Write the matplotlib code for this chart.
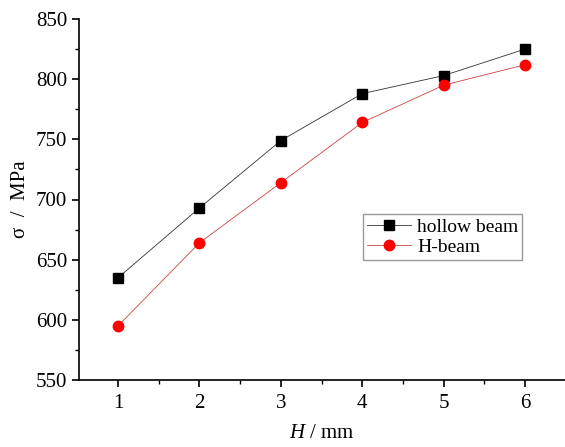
import matplotlib
matplotlib.use("Agg")
import matplotlib.pyplot as plt
from matplotlib.ticker import MultipleLocator

H = [1, 2, 3, 4, 5, 6]
hollow = [635, 693, 749, 788, 803, 825]
hbeam = [595, 664, 714, 764, 795, 812]

plt.rcParams['font.family'] = ['Liberation Serif', 'DejaVu Serif']
plt.rcParams['mathtext.fontset'] = 'custom'
plt.rcParams['mathtext.it'] = 'Liberation Serif:italic'
plt.rcParams['mathtext.rm'] = 'Liberation Serif'

fig = plt.figure(figsize=(5.65, 4.47), dpi=100)
ax = fig.add_axes([79/565, 1-380/447, 486/565, 361/447])

ax.plot(H, hollow, color='#333333', lw=0.6, marker='s', ms=6.5, mfc='black', mec='black', label='hollow beam')
ax.plot(H, hbeam, color='#cc4444', lw=0.6, marker='o', ms=7.5, mfc='red', mec='red', label='H-beam')

ax.set_xlim(0.52, 6.49)
ax.set_ylim(550, 850)
ax.xaxis.set_major_locator(MultipleLocator(1))
ax.xaxis.set_minor_locator(MultipleLocator(0.5))
ax.yaxis.set_major_locator(MultipleLocator(50))
ax.yaxis.set_minor_locator(MultipleLocator(25))
for s in ['top', 'right']:
    ax.spines[s].set_visible(False)
for s in ['left', 'bottom']:
    ax.spines[s].set_linewidth(1.2)
ax.tick_params(which='major', direction='out', length=5, width=1.2, labelsize=15)
ax.tick_params(axis='x', which='major', pad=5)
ax.tick_params(which='minor', direction='out', length=3, width=1.0)

ax.set_xlabel('$H$ / mm', fontsize=15, labelpad=8)
ax.set_ylabel('σ  /  MPa', fontsize=15, labelpad=4)

leg = ax.legend(loc='lower left', bbox_to_anchor=(0.584, 0.332), fontsize=14,
                frameon=True, fancybox=False, edgecolor='gray', handlelength=2.3,
                borderpad=0.2, labelspacing=0.15, handletextpad=0.3, borderaxespad=0)
leg.get_frame().set_linewidth(1.0)

fig.savefig('out.png', dpi=100)
